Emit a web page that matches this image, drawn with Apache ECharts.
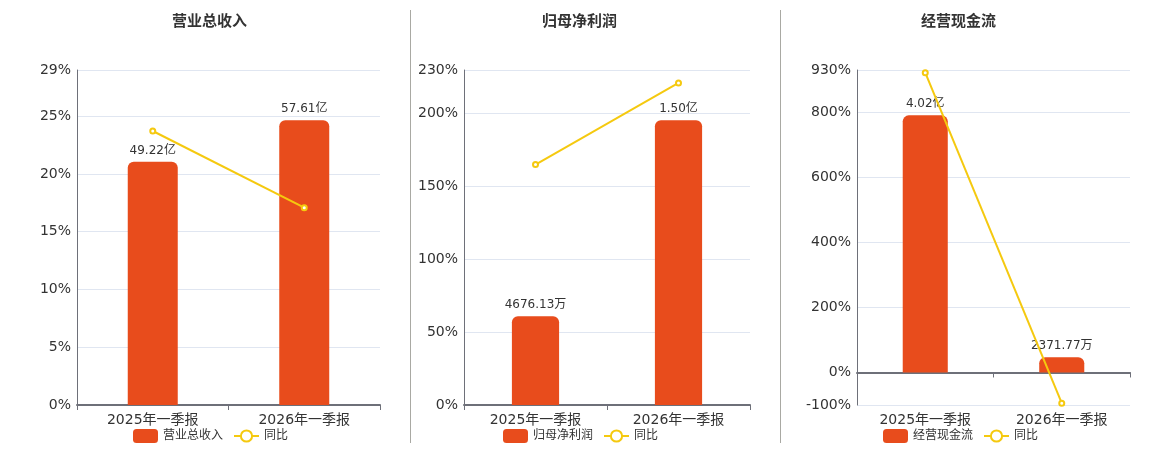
<!DOCTYPE html>
<html>
<head>
<meta charset="utf-8">
<script src="https://cdn.jsdelivr.net/npm/echarts@6/dist/echarts.min.js"></script>
<style>
  html, body { margin: 0; padding: 0; background: #fff; }
  #chart { width: 1160px; height: 450px; }
</style>
</head>
<body>
<div id="chart"></div>
<script>
const categories = ['2025年一季报', '2026年一季报'];

const titles = ['营业总收入', '归母净利润', '经营现金流'];

// bar values in 亿
const revenue = [49.22, 57.61];
const netProfit = [0.467613, 1.50];
const cashFlow = [4.02, 0.237177];

const revenueLabels = ['49.22亿', '57.61亿'];
const netProfitLabels = ['4676.13万', '1.50亿'];
const cashFlowLabels = ['4.02亿', '2371.77万'];

// 同比 (%)
const revenueYoy = [23.72, 17.08];
const netProfitYoy = [165.1, 221.1];
const cashFlowYoy = [921.6, -94.3];

// percent axis bounds
const pctMin = [0, 0, -100];
const pctMax = [29, 230, 930];

const BAR = '#e84c1c';
const LINE = '#f5c90f';
const FONT = 'DejaVu Sans, "Noto Sans CJK SC", sans-serif';

const panels = [
  { title: titles[0], bars: revenue, labels: revenueLabels, yoy: revenueYoy, grid: { left: 77, right: 780 }, titleLeft: 172, legendLeft: 133 },
  { title: titles[1], bars: netProfit, labels: netProfitLabels, yoy: netProfitYoy, grid: { left: 464, right: 410 }, titleLeft: 542, legendLeft: 503 },
  { title: titles[2], bars: cashFlow, labels: cashFlowLabels, yoy: cashFlowYoy, grid: { left: 857, right: 30 }, titleLeft: 921, legendLeft: 883 },
];

const chart = echarts.init(document.getElementById('chart'));

const option = {
  animation: false,
  textStyle: { fontFamily: FONT },
  title: [],
  legend: [],
  grid: [],
  xAxis: [],
  yAxis: [],
  series: [],
  graphic: [410, 780].map((x) => ({
    type: 'line',
    shape: { x1: x + 0.5, y1: 10, x2: x + 0.5, y2: 443 },
    style: { stroke: '#a9a9a3', lineWidth: 1 },
  })),
};

panels.forEach((p, i) => {
  const barMax = Math.max(...p.bars) / 0.85;
  const barMin = pctMin[i] < 0 ? barMax * pctMin[i] / pctMax[i] : 0;

  option.title.push({
    text: p.title,
    left: p.titleLeft,
    top: 15,
    padding: 0,
    textStyle: { fontSize: 15, fontWeight: 'bold', color: '#333', fontFamily: FONT },
  });

  option.legend.push({
    data: [p.title, '同比'],
    left: p.legendLeft,
    top: 429,
    padding: 0,
    itemWidth: 25,
    itemHeight: 14,
    itemGap: 10,
    selectedMode: false,
    textStyle: { fontSize: 12, color: '#333', fontFamily: FONT },
  });

  option.grid.push({ left: p.grid.left, right: p.grid.right, top: 70, bottom: 45 });

  option.xAxis.push({
    type: 'category',
    gridIndex: i,
    data: categories,
    axisLine: { lineStyle: { color: '#6e7079', width: 2 } },
    axisTick: { show: true, lineStyle: { color: '#6e7079' } },
    axisLabel: { fontSize: 14, color: '#333', fontFamily: FONT },
  });

  option.yAxis.push({
    type: 'value',
    gridIndex: i,
    min: pctMin[i],
    max: pctMax[i],
    axisLine: { show: true, lineStyle: { color: '#6e7079' } },
    axisTick: { show: false },
    axisLabel: { formatter: '{value}%', fontSize: 14, color: '#333', margin: 6, fontFamily: FONT },
    splitLine: { lineStyle: { color: '#e0e6f1' } },
  });

  option.yAxis.push({
    type: 'value',
    gridIndex: i,
    min: barMin,
    max: barMax,
    show: false,
    splitLine: { show: false },
  });

  option.series.push({
    name: p.title,
    type: 'bar',
    xAxisIndex: i,
    yAxisIndex: i * 2 + 1,
    data: p.bars,
    barWidth: '33%',
    itemStyle: { color: BAR, borderRadius: [6, 6, 0, 0] },
    label: {
      show: true,
      position: 'top',
      fontSize: 12,
      color: '#333',
      fontFamily: FONT,
      formatter: (d) => p.labels[d.dataIndex],
    },
  });

  option.series.push({
    name: '同比',
    type: 'line',
    xAxisIndex: i,
    yAxisIndex: i * 2,
    data: p.yoy,
    z: 5,
    symbol: 'emptyCircle',
    symbolSize: 5,
    lineStyle: { color: LINE, width: 2 },
    itemStyle: { color: LINE },
  });
});

chart.setOption(option);
</script>
</body>
</html>
